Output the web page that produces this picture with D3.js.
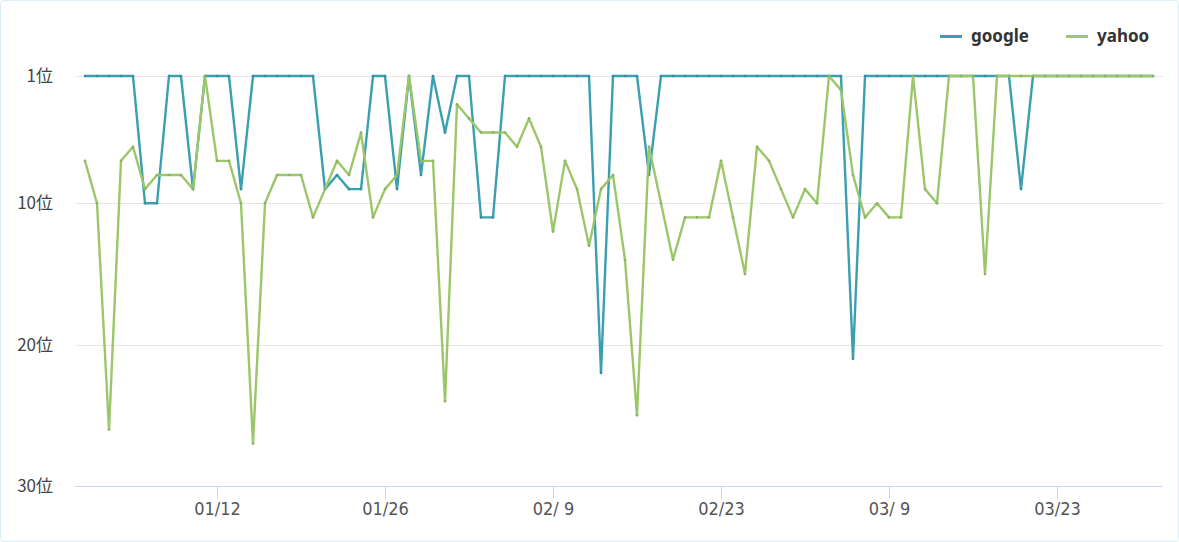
<!DOCTYPE html>
<html>
<head>
<meta charset="utf-8">
<script src="https://cdn.jsdelivr.net/npm/d3@7"></script>
<style>
  html, body { margin: 0; padding: 0; background: #fff; }
  #chart { width: 1179px; height: 542px; }
</style>
</head>
<body>
<div id="chart"></div>
<script>
// rank per day, 2015-01-01 .. 2015-03-31
const startDay = "2015-01-01", endDay = "2015-04-01";
const google = [
  1, 1, 1, 1, 1, 10, 10, 1, 1, 9,
  1, 1, 1, 9, 1, 1, 1, 1, 1, 1,
  9, 8, 9, 9, 1, 1, 9, 1, 8, 1,
  5, 1, 1, 11, 11, 1, 1, 1, 1, 1,
  1, 1, 1, 22, 1, 1, 1, 8, 1, 1,
  1, 1, 1, 1, 1, 1, 1, 1, 1, 1,
  1, 1, 1, 1, 21, 1, 1, 1, 1, 1,
  1, 1, 1, 1, 1, 1, 1, 1, 9, 1,
  1, 1, 1, 1, 1, 1, 1, 1, 1, 1
];
const yahoo = [
  7, 10, 26, 7, 6, 9, 8, 8, 8, 9,
  1, 7, 7, 10, 27, 10, 8, 8, 8, 11,
  9, 7, 8, 5, 11, 9, 8, 1, 7, 7,
  24, 3, 4, 5, 5, 5, 6, 4, 6, 12,
  7, 9, 13, 9, 8, 14, 25, 6, 10, 14,
  11, 11, 11, 7, 11, 15, 6, 7, 9, 11,
  9, 10, 1, 2, 8, 11, 10, 11, 11, 1,
  9, 10, 1, 1, 1, 15, 1, 1, 1, 1,
  1, 1, 1, 1, 1, 1, 1, 1, 1, 1
];
const seriesNames = ["google", "yahoo"];
const seriesColors = ["#3a9fb1", "#9cc66a"];
const yTicks = [1, 10, 20, 30];
const xTicks = ["2015-01-12", "2015-01-26", "2015-02-09", "2015-02-23", "2015-03-09", "2015-03-23"];

const W = 1179, H = 542;
const plot = { left: 75, right: 1163, top: 76, bottom: 486 };

const parse = d3.timeParse("%Y-%m-%d");
const days = d3.timeDay.range(parse(startDay), parse(endDay));

const x = d3.scaleTime()
  .domain(d3.extent(days))
  .range([plot.left + 10, plot.right - 10]);
const y = d3.scaleLinear().domain([1, 30]).range([plot.top, plot.bottom]);

const svg = d3.select("#chart").append("svg")
  .attr("width", W).attr("height", H)
  .style("font-family", "'Noto Sans', sans-serif");

// card border
svg.append("rect")
  .attr("x", 0.5).attr("y", 0.5)
  .attr("width", W - 1).attr("height", H - 1)
  .attr("rx", 3)
  .attr("fill", "#fff")
  .attr("stroke", "#dcedf3");

// horizontal grid
svg.append("g")
  .selectAll("line")
  .data(yTicks.filter(d => d !== 30))
  .join("line")
  .attr("x1", plot.left).attr("x2", plot.right)
  .attr("y1", d => Math.round(y(d)) + 0.5).attr("y2", d => Math.round(y(d)) + 0.5)
  .attr("stroke", "#e6e6e6");

// y labels
svg.append("g")
  .selectAll("text")
  .data(yTicks)
  .join("text")
  .attr("x", 53)
  .attr("y", d => y(d) + 6)
  .attr("text-anchor", "end")
  .style("font-family", "'Noto Sans CJK JP', sans-serif")
  .style("font-size", "17px")
  .attr("fill", "#444")
  .text(d => d + "位");

// x axis
const xAxis = d3.axisBottom(x)
  .tickValues(xTicks.map(parse))
  .tickFormat(d3.timeFormat("%m/%e"))
  .tickSize(12)
  .tickSizeOuter(0);

const gx = svg.append("g")
  .attr("transform", `translate(0,${Math.round(plot.bottom) + 0.5})`)
  .call(xAxis);
gx.select(".domain").attr("d", `M${plot.left},0H${plot.right}`).attr("stroke", "#ccd6eb");
gx.selectAll(".tick line").attr("stroke", "#ccd6eb");
gx.selectAll(".tick text")
  .attr("y", 16)
  .attr("fill", "#555")
  .style("font-family", "'DejaVu Sans Condensed', 'Liberation Sans Narrow', sans-serif")
  .style("font-size", "18px");

// lines
const line = d3.line()
  .x((d, i) => x(days[i]))
  .y(d => y(d));

const allSeries = [google, yahoo];
allSeries.forEach((vals, k) => {
  const g = svg.append("g");
  g.append("path")
    .datum(vals)
    .attr("fill", "none")
    .attr("stroke", seriesColors[k])
    .attr("stroke-width", 2.4)
    .attr("stroke-linejoin", "round")
    .attr("d", line);
  g.selectAll("circle")
    .data(vals)
    .join("circle")
    .attr("cx", (d, i) => x(days[i]))
    .attr("cy", d => y(d))
    .attr("r", 1.3)
    .attr("fill", d3.color(seriesColors[k]).darker(0.3));
});

// legend
const legend = svg.append("g");
const legendX = [940, 1066];
seriesNames.forEach((name, k) => {
  legend.append("line")
    .attr("x1", legendX[k]).attr("x2", legendX[k] + 22)
    .attr("y1", 36.5).attr("y2", 36.5)
    .attr("stroke", seriesColors[k])
    .attr("stroke-width", 3);
  legend.append("text")
    .attr("x", legendX[k] + 31)
    .attr("y", 42)
    .attr("fill", "#333")
    .style("font-size", "17px")
    .style("font-weight", "bold")
    .text(name);
});
</script>
</body>
</html>
